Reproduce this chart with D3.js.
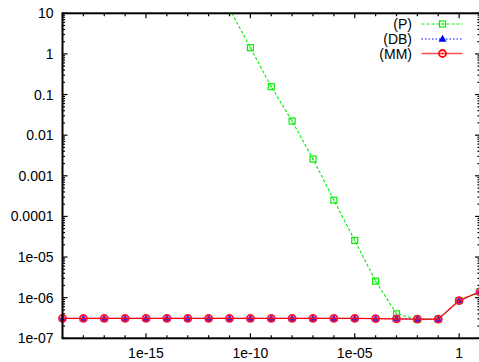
<!DOCTYPE html>
<html><head><meta charset="utf-8">
<script src="https://cdn.jsdelivr.net/npm/d3@7"></script>
<style>body{margin:0;background:#fff}svg{display:block}text{font-family:"Liberation Sans",Arial,sans-serif;font-size:14px;fill:#000}</style>
</head><body>
<script>
// x values (decades)
const xValues = [1e-19,1e-18,1e-17,1e-16,1e-15,1e-14,1e-13,1e-12,1e-11,1e-10,1e-9,1e-8,1e-7,1e-6,1e-5,1e-4,1e-3,1e-2,1e-1,1,10];
const mmValues = [3.1e-7,3.1e-7,3.1e-7,3.1e-7,3.1e-7,3.1e-7,3.1e-7,3.1e-7,3.1e-7,3.1e-7,3.1e-7,3.1e-7,3.1e-7,3.1e-7,3.1e-7,3.05e-7,3.0e-7,2.95e-7,2.95e-7,8.5e-7,1.4e-6];
const dbValues = [3.1e-7,3.1e-7,3.1e-7,3.1e-7,3.1e-7,3.1e-7,3.1e-7,3.1e-7,3.1e-7,3.1e-7,3.1e-7,3.1e-7,3.1e-7,3.1e-7,3.1e-7,3.05e-7,3.0e-7,2.95e-7,2.95e-7,8.5e-7,1.4e-6];
const pX = [1e-11,1e-10,1e-9,1e-8,1e-7,1e-6,1e-5,1e-4,1e-3,1e-2,1e-1,1,10];
const pValues = [13,1.42,0.156,0.0222,0.00258,2.52e-4,2.56e-5,2.55e-6,4.0e-7,2.95e-7,2.95e-7,8.5e-7,1.4e-6];
const xTickValues = [1e-15,1e-10,1e-5,1];
const xTickLabels = ["1e-15","1e-10","1e-05","1"];
const yTickValues = [10,1,0.1,0.01,0.001,0.0001,1e-5,1e-6,1e-7];
const yTickLabels = ["10","1","0.1","0.01","0.001","0.0001","1e-05","1e-06","1e-07"];
const seriesNames = ["(P)","(DB)","(MM)"];

const W=479,H=362;
const L=62.5,R=480,T=13.3,B=338.3;
const x=d3.scaleLog().domain([1e-19,10]).range([L,R]);
const y=d3.scaleLog().domain([1e-7,10]).range([B,T]);
const svg=d3.select("body").append("svg").attr("width",W).attr("height",H);

svg.append("defs").append("clipPath").attr("id","clip").append("rect")
  .attr("x",L-6).attr("y",T).attr("width",R-L+12).attr("height",B-T);

// minor ticks
const xMinor=xValues.filter(v=>!xTickValues.includes(v));
const yMinor=[];
for(let e=-7;e<1;e++){for(let m=2;m<=9;m++){yMinor.push(m*Math.pow(10,e));}}

const tk=svg.append("g").attr("stroke","#000").attr("stroke-width",1.2);
xTickValues.forEach(v=>{const px=x(v);
  tk.append("line").attr("x1",px).attr("x2",px).attr("y1",B).attr("y2",B-5);
  tk.append("line").attr("x1",px).attr("x2",px).attr("y1",T).attr("y2",T+5);});
xMinor.forEach(v=>{const px=x(v);
  tk.append("line").attr("x1",px).attr("x2",px).attr("y1",B).attr("y2",B-3);
  tk.append("line").attr("x1",px).attr("x2",px).attr("y1",T).attr("y2",T+3);});
yTickValues.forEach(v=>{const py=y(v);
  tk.append("line").attr("x1",L).attr("x2",L+5).attr("y1",py).attr("y2",py);
  tk.append("line").attr("x1",R).attr("x2",R-5).attr("y1",py).attr("y2",py);});
yMinor.forEach(v=>{const py=y(v);
  tk.append("line").attr("x1",L).attr("x2",L+2.5).attr("y1",py).attr("y2",py);
  tk.append("line").attr("x1",R).attr("x2",R-2.5).attr("y1",py).attr("y2",py);});

// tick labels
xTickValues.forEach((v,i)=>svg.append("text").attr("x",x(v)).attr("y",357.5).attr("text-anchor","middle").text(xTickLabels[i]));
yTickValues.forEach((v,i)=>svg.append("text").attr("x",53.5).attr("y",y(v)+5).attr("text-anchor","end").text(yTickLabels[i]));

const line=d3.line().x(d=>x(d[0])).y(d=>y(d[1]));
const gP=svg.append("g").attr("clip-path","url(#clip)");
const gD=svg.append("g").attr("clip-path","url(#clip)");
const gM=svg.append("g").attr("clip-path","url(#clip)");

const pData=pX.map((v,i)=>[v,pValues[i]]);
const dData=xValues.map((v,i)=>[v,dbValues[i]]);
const mData=xValues.map((v,i)=>[v,mmValues[i]]);

function square(g,cx,cy,c){
  g.append("rect").attr("x",cx-3).attr("y",cy-3).attr("width",6).attr("height",6).attr("fill","none").attr("stroke",c).attr("stroke-width",1.2);
  g.append("rect").attr("x",cx-0.7).attr("y",cy-0.7).attr("width",1.4).attr("height",1.4).attr("fill",c);
}
function tri(g,cx,cy,c){
  g.append("path").attr("d",`M${cx},${cy-4.2}L${cx+4},${cy+2.8}L${cx-4},${cy+2.8}Z`).attr("fill",c);
}
function circ(g,cx,cy,c){
  g.append("circle").attr("cx",cx).attr("cy",cy).attr("r",3.5).attr("fill","none").attr("stroke",c).attr("stroke-width",1.8);
  g.append("circle").attr("cx",cx).attr("cy",cy).attr("r",0.9).attr("fill",c);
}

gP.append("path").datum(pData).attr("d",line).attr("fill","none").attr("stroke","#00f000").attr("stroke-width",1.1).attr("stroke-dasharray","3,2");
pData.filter(d=>d[1]<=10).forEach(d=>square(gP,x(d[0]),y(d[1]),"#00f000"));
gD.append("path").datum(dData).attr("d",line).attr("fill","none").attr("stroke","#0000ff").attr("stroke-width",1).attr("stroke-dasharray","1.5,2");
dData.forEach(d=>tri(gD,x(d[0]),y(d[1]),"#4020e0"));
gM.append("path").datum(mData).attr("d",line).attr("fill","none").attr("stroke","#ff0000").attr("stroke-width",1.3);
mData.forEach(d=>circ(gM,x(d[0]),y(d[1]),"#ff1030"));

// border
svg.append("rect").attr("x",L).attr("y",T).attr("width",R-L).attr("height",B-T).attr("fill","none").attr("stroke","#000").attr("stroke-width",2);

// legend
const legY=[24,39,53.5];
const lg=svg.append("g");
seriesNames.forEach((n,i)=>lg.append("text").attr("x",412).attr("y",legY[i]+5).attr("text-anchor","end").text(n));
lg.append("line").attr("x1",421.5).attr("x2",462.5).attr("y1",legY[0]).attr("y2",legY[0]).attr("stroke","#00f000").attr("stroke-dasharray","3,2");
square(lg,442.5,legY[0],"#00f000");
lg.append("line").attr("x1",421.5).attr("x2",462.5).attr("y1",legY[1]).attr("y2",legY[1]).attr("stroke","#0000ff").attr("stroke-dasharray","1.5,2");
tri(lg,442.5,legY[1],"#0000ff");
lg.append("line").attr("x1",421.5).attr("x2",462.5).attr("y1",legY[2]).attr("y2",legY[2]).attr("stroke","#ff5050").attr("stroke-width",1.4);
circ(lg,442.5,legY[2],"#ff0000");
</script>
</body></html>
